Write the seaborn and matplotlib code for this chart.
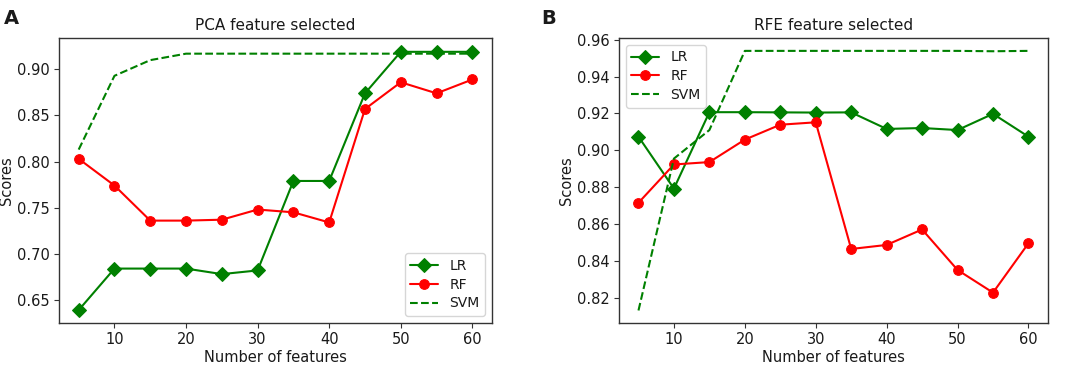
import pandas as pd
import numpy as np
import matplotlib
matplotlib.use("Agg")
import matplotlib.pyplot as plt
import seaborn as sns

sns.set_style("ticks")
plt.rcParams['font.family'] = ['DejaVu Sans']
plt.rcParams['text.color'] = '#1a1a1a'
plt.rcParams['axes.labelcolor'] = '#1a1a1a'
plt.rcParams['xtick.color'] = '#333333'
plt.rcParams['ytick.color'] = '#333333'
plt.rcParams['xtick.labelcolor'] = '#1a1a1a'
plt.rcParams['ytick.labelcolor'] = '#1a1a1a'

n_features = [5, 10, 15, 20, 25, 30, 35, 40, 45, 50, 55, 60]

# PCA feature selected
pca_lr = [0.639, 0.684, 0.684, 0.684, 0.678, 0.682, 0.779, 0.779, 0.874, 0.919, 0.919, 0.919]
pca_rf = [0.803, 0.774, 0.736, 0.736, 0.737, 0.748, 0.745, 0.734, 0.857, 0.886, 0.874, 0.889]
pca_svm = [0.813, 0.893, 0.910, 0.917, 0.917, 0.917, 0.917, 0.917, 0.917, 0.917, 0.917, 0.917]

# RFE feature selected
rfe_lr = [0.9074, 0.8792, 0.9207, 0.9207, 0.9206, 0.9205, 0.9206, 0.9116, 0.9121, 0.9110, 0.9198, 0.9074]
rfe_rf = [0.8715, 0.8923, 0.8936, 0.9058, 0.9139, 0.9152, 0.8464, 0.8486, 0.8570, 0.8350, 0.8227, 0.8495]
rfe_svm = [0.813, 0.8955, 0.911, 0.954, 0.954, 0.954, 0.954, 0.954, 0.954, 0.954, 0.9538, 0.954]

fig = plt.figure(figsize=(10.65, 3.66), dpi=100)
ax1 = fig.add_axes([0.0554, 0.1175, 0.4066, 0.7787])
ax2 = fig.add_axes([0.5812, 0.1175, 0.4028, 0.7787])


def draw(ax, lr, rf, svm, title, loc):
    sns.lineplot(x=n_features, y=lr, ax=ax, color='green', marker='D', markersize=7,
                 markeredgecolor='green', linewidth=1.5, label='LR')
    sns.lineplot(x=n_features, y=rf, ax=ax, color='red', marker='o', markersize=7,
                 markeredgecolor='red', linewidth=1.5, label='RF')
    sns.lineplot(x=n_features, y=svm, ax=ax, color='green', linestyle='--', linewidth=1.5, label='SVM')
    ax.set_title(title, fontsize=11)
    ax.set_xlabel('Number of features', fontsize=10.5, labelpad=2)
    ax.set_ylabel('Scores', fontsize=10.5, labelpad=2)
    ax.tick_params(labelsize=10.5, length=3.5, width=0.8, pad=3)
    ax.legend(loc=loc, fontsize=10, labelspacing=0.35, handlelength=2.0)
    for s in ax.spines.values():
        s.set_color('#333333')
        s.set_linewidth(1.0)


draw(ax1, pca_lr, pca_rf, pca_svm, 'PCA feature selected', 'lower right')
draw(ax2, rfe_lr, rfe_rf, rfe_svm, 'RFE feature selected', 'upper left')
ax1.set_yticks([0.65, 0.70, 0.75, 0.80, 0.85, 0.90])
ax2.set_yticks([0.82, 0.84, 0.86, 0.88, 0.90, 0.92, 0.94, 0.96])
ax1.yaxis.set_major_formatter(matplotlib.ticker.FormatStrFormatter('%.2f'))
ax2.yaxis.set_major_formatter(matplotlib.ticker.FormatStrFormatter('%.2f'))
ax1.set_xticks([10, 20, 30, 40, 50, 60])
ax2.set_xticks([10, 20, 30, 40, 50, 60])
ax1.set_ylim(0.625, 0.934)
ax2.set_ylim(0.8062, 0.961)

fig.text(0.004, 0.975, 'A', fontsize=14, fontweight='bold', va='top')
fig.text(0.508, 0.975, 'B', fontsize=14, fontweight='bold', va='top')

fig.savefig('out.png', dpi=100)
